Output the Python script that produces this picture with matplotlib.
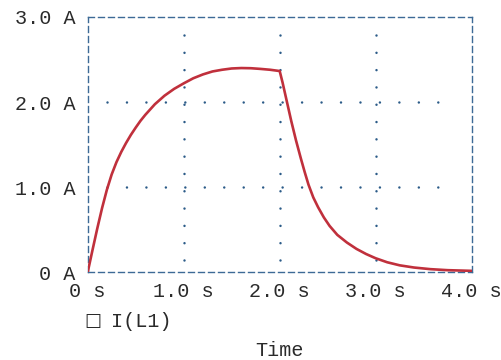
import matplotlib
matplotlib.use("Agg")
import matplotlib.pyplot as plt

# I(L1) values
time_s = [0.0, 0.05, 0.1, 0.15, 0.2, 0.25, 0.3, 0.35, 0.4, 0.45, 0.5, 0.55,
          0.6, 0.7, 0.8, 0.9, 1.0, 1.1, 1.2, 1.3, 1.4, 1.5, 1.6, 1.7, 1.8,
          1.9, 2.0,
          2.03, 2.066, 2.12, 2.17, 2.22, 2.26, 2.3, 2.35, 2.4, 2.46, 2.52,
          2.6, 2.7, 2.8, 2.9, 3.0, 3.12, 3.25, 3.4, 3.57, 3.75, 4.0]
current_a = [0.0, 0.26, 0.515, 0.755, 0.97, 1.15, 1.295, 1.415, 1.52, 1.615, 1.70, 1.78,
             1.85, 1.975, 2.075, 2.155, 2.22, 2.28, 2.325, 2.36, 2.38, 2.395, 2.40,
             2.398, 2.39, 2.38, 2.365,
             2.23, 2.05, 1.78, 1.55, 1.34, 1.18, 1.03, 0.88, 0.765, 0.645, 0.545,
             0.44, 0.35, 0.275, 0.215, 0.165, 0.118, 0.082, 0.056, 0.037, 0.025, 0.017]

x_ticks = [0, 1, 2, 3, 4]
x_labels = ["0 s", "1.0 s", "2.0 s", "3.0 s", "4.0 s"]
y_ticks = [0, 1, 2, 3]
y_labels = ["0 A", "1.0 A", "2.0 A", "3.0 A"]

plt.rcParams['font.family'] = ['Liberation Mono', 'DejaVu Sans Mono']
plt.rcParams['lines.scale_dashes'] = False
text_col = "#2a2a2a"
frame_col = "#3d6a96"
dot_col = "#2b5b88"

fig = plt.figure(figsize=(5.01, 3.6), dpi=100)
ax = fig.add_axes([0.175, 0.2436, 0.7665, 0.7092])

ax.plot(time_s, current_a, color="#c0303c", lw=1.9,
        solid_joinstyle="round", solid_capstyle="round", zorder=3)

ax.set_xlim(0, 4)
ax.set_ylim(0, 3)
ax.set_xticks(x_ticks)
ax.set_xticklabels(x_labels)
ax.set_yticks(y_ticks)
ax.set_yticklabels(y_labels)
ax.tick_params(length=0, labelsize=14.5, colors=text_col)
ax.tick_params(axis="y", pad=9)
ax.tick_params(axis="x", pad=7)

for sp in ax.spines.values():
    sp.set_color(frame_col)
    sp.set_linewidth(1.0)
    sp.set_linestyle((0, (4.3, 2.9)))

# dotted grid
for xv in [1, 2, 3]:
    ax.axvline(xv, ymin=0.05, ymax=0.935, color=dot_col, lw=1.8,
               linestyle=(0, (0.01, 12.45)), dash_capstyle="round", zorder=1)
for yv in [1, 2]:
    ax.axhline(yv, xmin=0.05, xmax=0.915, color=dot_col, lw=1.8,
               linestyle=(0, (0.01, 14.0)), dash_capstyle="round", zorder=1)

ax.set_xlabel("Time", fontsize=14.5, color=text_col, labelpad=29)

# legend entry below the axis
fig.text(0.186, 0.108, "\u25a1", fontsize=13, color=text_col,
         family=['DejaVu Sans'], ha="center", va="center")
fig.text(0.222, 0.108, "I(L1)", fontsize=14.5, color=text_col, va="center")

fig.savefig("out.png", dpi=100)
